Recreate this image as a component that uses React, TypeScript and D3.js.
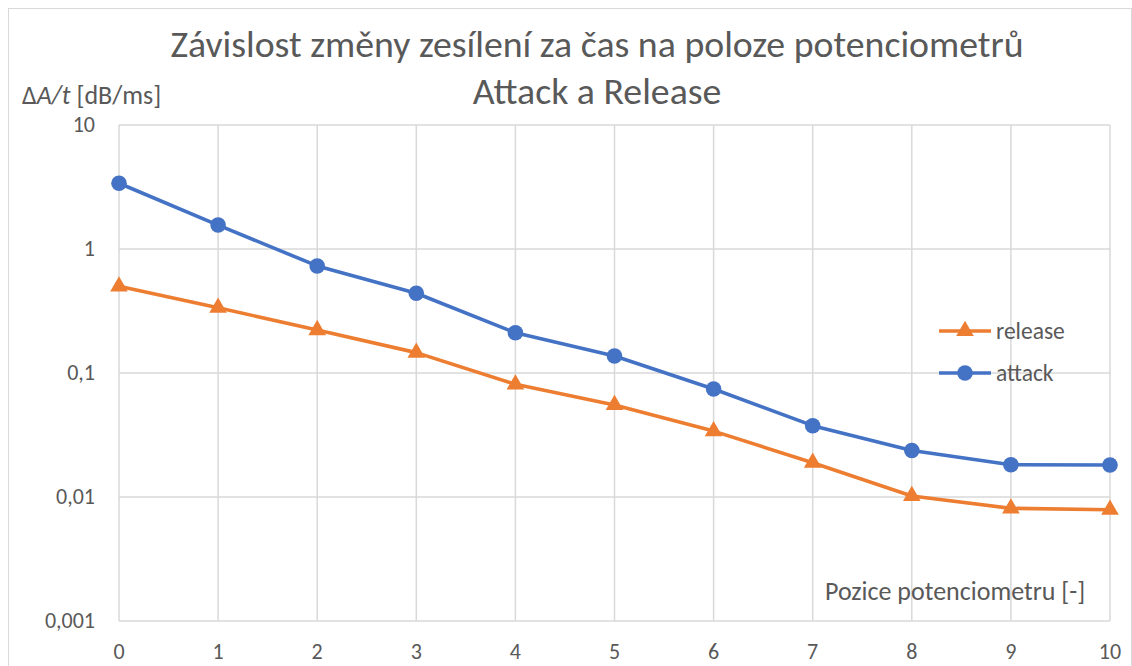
import React, { useRef, useEffect } from 'react';
import * as d3 from 'd3';

const positions = [0, 1, 2, 3, 4, 5, 6, 7, 8, 9, 10];
const attack = [3.39, 1.56, 0.73, 0.44, 0.211, 0.137, 0.0743, 0.0376, 0.0237, 0.0182, 0.0181];
const release = [0.5, 0.336, 0.222, 0.146, 0.081, 0.0552, 0.034, 0.0189, 0.0102, 0.0081, 0.0079];
const yTicks = [0.001, 0.01, 0.1, 1, 10];
const yTickLabels = ['0,001', '0,01', '0,1', '1', '10'];
const titleLines = ['Závislost změny zesílení za čas na poloze potenciometrů', 'Attack a Release'];

const FONT = 'Carlito, Calibri, Lato, sans-serif';
const TEXT = '#595959';
const BLUE = '#4472C4';
const ORANGE = '#ED7D31';

const App = () => {
  const ref = useRef<SVGSVGElement>(null);

  useEffect(() => {
    const width = 1132;
    const height = 666;
    const m = { left: 119, right: 1110, top: 125, bottom: 621 };

    const svg = d3.select(ref.current);
    svg.selectAll('*').remove();

    // chart border
    svg.append('rect')
      .attr('x', 8.5).attr('y', 8.5)
      .attr('width', width - 9).attr('height', height)
      .attr('fill', '#fff').attr('stroke', '#d9d9d9');

    const x = d3.scaleLinear().domain([0, 10]).range([m.left, m.right]);
    const y = d3.scaleLog().domain([0.001, 10]).range([m.bottom, m.top]);

    // grid
    const g = svg.append('g');
    g.selectAll('line.v')
      .data(positions)
      .join('line')
      .attr('x1', d => x(d)).attr('x2', d => x(d))
      .attr('y1', m.top).attr('y2', m.bottom)
      .attr('stroke', '#d9d9d9').attr('stroke-width', 1.5);
    g.selectAll('line.h')
      .data(yTicks)
      .join('line')
      .attr('x1', m.left).attr('x2', m.right)
      .attr('y1', d => y(d)).attr('y2', d => y(d))
      .attr('stroke', '#d9d9d9').attr('stroke-width', 1.5);

    // tick labels
    svg.append('g').selectAll('text')
      .data(yTicks)
      .join('text')
      .attr('x', 95).attr('y', d => y(d) + 7)
      .attr('text-anchor', 'end')
      .attr('font-family', FONT).attr('font-size', 22).attr('fill', TEXT)
      .text((d, i) => yTickLabels[i]);

    svg.append('g').selectAll('text')
      .data(positions)
      .join('text')
      .attr('x', d => x(d)).attr('y', 659)
      .attr('text-anchor', 'middle')
      .attr('font-family', FONT).attr('font-size', 22).attr('fill', TEXT)
      .text(d => String(d));

    // title
    svg.append('g').selectAll('text')
      .data(titleLines)
      .join('text')
      .attr('x', 597).attr('y', (d, i) => 57 + i * 47)
      .attr('text-anchor', 'middle')
      .attr('font-family', FONT).attr('font-size', 37.8).attr('fill', TEXT)
      .text(d => d);

    // axis titles
    const yt = svg.append('text')
      .attr('x', 22).attr('y', 104)
      .attr('font-family', FONT).attr('font-size', 26).attr('fill', TEXT);
    yt.append('tspan').text('Δ');
    yt.append('tspan').attr('font-style', 'italic').text('A/t');
    yt.append('tspan').text(' [dB/ms]');

    svg.append('text')
      .attr('x', 825).attr('y', 600)
      .attr('font-family', FONT).attr('font-size', 26).attr('fill', TEXT)
      .text('Pozice potenciometru [-]');

    const line = d3.line<number>()
      .x((d, i) => x(positions[i]))
      .y(d => y(d));

    const tri = d3.symbol().type(d3.symbolTriangle).size(135);

    // release
    svg.append('path')
      .attr('d', line(release))
      .attr('fill', 'none').attr('stroke', ORANGE).attr('stroke-width', 3.6)
      .attr('stroke-linejoin', 'round');
    svg.append('g').selectAll('path')
      .data(release)
      .join('path')
      .attr('d', tri)
      .attr('transform', (d, i) => `translate(${x(positions[i])},${y(d)})`)
      .attr('fill', ORANGE);

    // attack
    svg.append('path')
      .attr('d', line(attack))
      .attr('fill', 'none').attr('stroke', BLUE).attr('stroke-width', 3.6)
      .attr('stroke-linejoin', 'round');
    svg.append('g').selectAll('circle')
      .data(attack)
      .join('circle')
      .attr('cx', (d, i) => x(positions[i]))
      .attr('cy', d => y(d))
      .attr('r', 7.8)
      .attr('fill', BLUE);

    // legend
    const legend = [
      { name: 'release', color: ORANGE, shape: 'tri', yy: 331 },
      { name: 'attack', color: BLUE, shape: 'circle', yy: 373 },
    ];
    const lg = svg.append('g').selectAll('g')
      .data(legend)
      .join('g')
      .attr('transform', d => `translate(0,${d.yy})`);
    lg.append('line')
      .attr('x1', 939).attr('x2', 991)
      .attr('stroke', d => d.color).attr('stroke-width', 3.6);
    lg.filter(d => d.shape === 'tri').append('path')
      .attr('d', tri)
      .attr('transform', 'translate(965,0)')
      .attr('fill', d => d.color);
    lg.filter(d => d.shape === 'circle').append('circle')
      .attr('cx', 965).attr('r', 7.8)
      .attr('fill', d => d.color);
    lg.append('text')
      .attr('x', 996).attr('y', 8)
      .attr('font-family', FONT).attr('font-size', 23.5).attr('fill', TEXT)
      .text(d => d.name);
  }, []);

  return (
    <svg
      ref={ref}
      width={1132}
      height={666}
      style={{ position: 'absolute', left: 0, top: 0, background: '#fff' }}
    />
  );
};

export default App;
